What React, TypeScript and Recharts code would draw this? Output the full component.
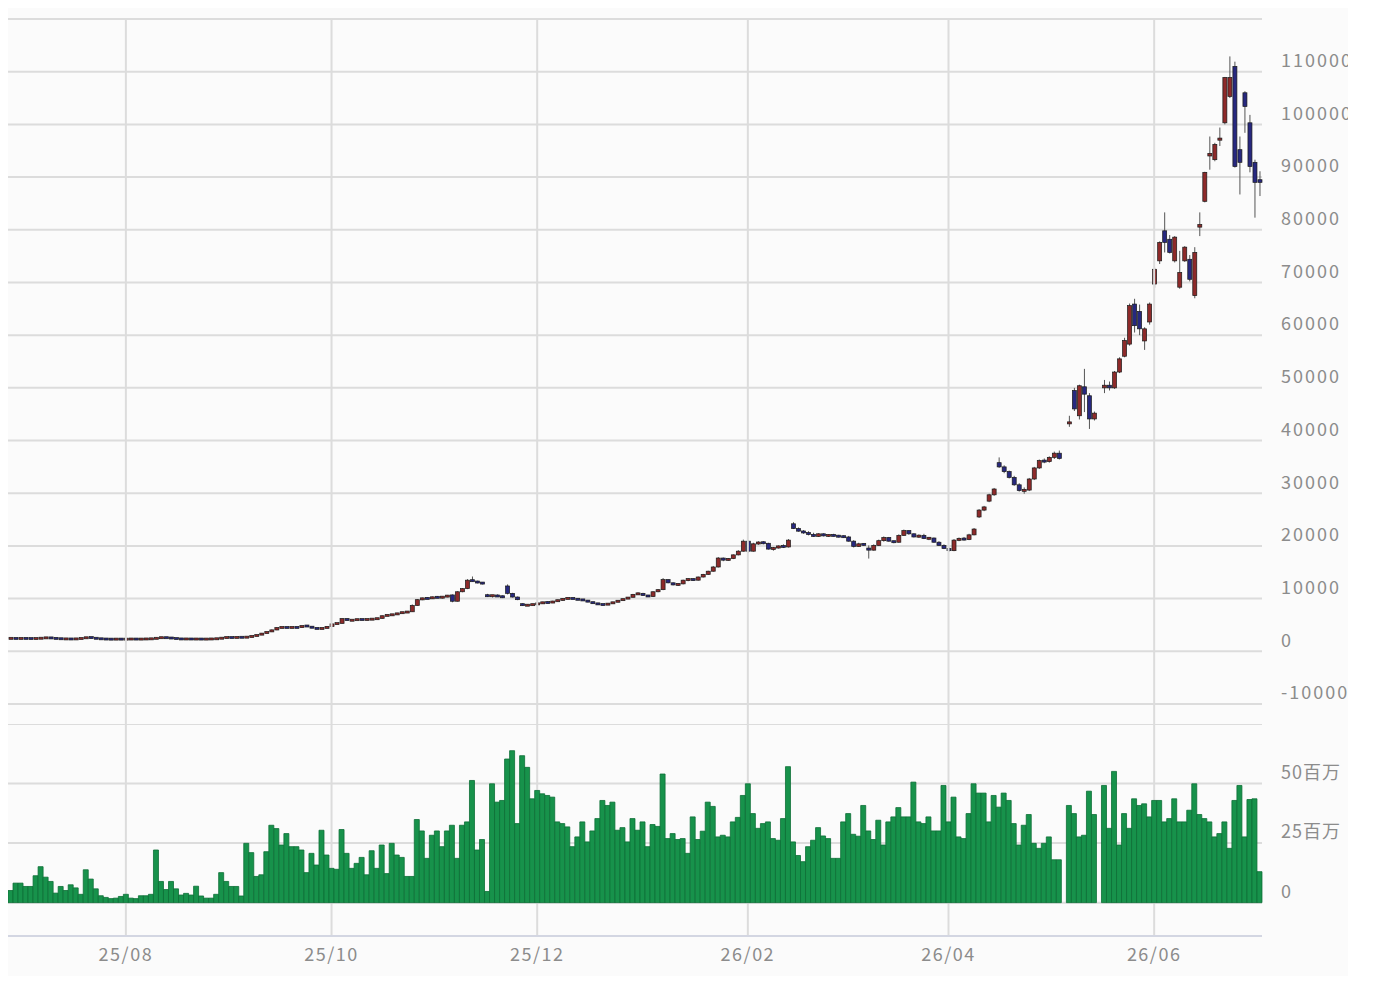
import React from 'react';
import { ComposedChart, Bar, XAxis, YAxis, CartesianGrid, ReferenceLine } from 'recharts';

// one row per trading day: [open, high, low, close], null = no trade
const candles: ([number, number, number, number] | null)[] = [
  [2450, 2550, 2380, 2480], [2480, 2520, 2400, 2420], [2420, 2500, 2380, 2470], [2470, 2530, 2420, 2440], [2440, 2500, 2380, 2400],
  [2400, 2480, 2360, 2450], [2450, 2560, 2420, 2520], [2520, 2620, 2480, 2580], [2580, 2640, 2480, 2500], [2500, 2560, 2380, 2420],
  [2420, 2460, 2300, 2340], [2340, 2400, 2280, 2360], [2360, 2420, 2300, 2320], [2320, 2400, 2280, 2380], [2380, 2500, 2340, 2480],
  [2480, 2700, 2450, 2650], [2650, 2700, 2500, 2550], [2550, 2580, 2380, 2400], [2400, 2440, 2300, 2340], [2340, 2380, 2280, 2320],
  [2320, 2380, 2260, 2300], [2300, 2360, 2260, 2330], [2330, 2380, 2280, 2300], [2300, 2360, 2260, 2320], [2320, 2380, 2280, 2340],
  [2340, 2380, 2290, 2310], [2310, 2360, 2270, 2330], [2330, 2380, 2290, 2350], [2350, 2420, 2300, 2380], [2380, 2600, 2360, 2560],
  [2560, 2640, 2500, 2600], [2600, 2660, 2520, 2560], [2560, 2600, 2450, 2480], [2480, 2500, 2340, 2360], [2360, 2400, 2300, 2330],
  [2330, 2380, 2290, 2350], [2350, 2390, 2300, 2320], [2320, 2370, 2280, 2340], [2340, 2380, 2290, 2310], [2310, 2360, 2270, 2330],
  [2330, 2380, 2290, 2350], [2350, 2420, 2320, 2400], [2400, 2600, 2380, 2580], [2580, 2660, 2540, 2620], [2620, 2680, 2560, 2600],
  [2600, 2700, 2570, 2680], [2680, 2740, 2620, 2650], [2650, 2760, 2620, 2720], [2720, 2950, 2700, 2900], [2900, 3150, 2880, 3100],
  [3100, 3480, 3080, 3420], [3420, 3750, 3400, 3700], [3700, 4150, 3650, 4050], [4050, 4600, 4000, 4500], [4500, 4620, 4420, 4550],
  [4550, 4650, 4450, 4500], [4500, 4600, 4400, 4560], [4560, 4650, 4480, 4520], [4520, 4900, 4500, 4850], [4850, 4950, 4700, 4750],
  [4750, 4780, 4350, 4400], [4400, 4480, 4250, 4300], [4300, 4420, 4250, 4380], [4380, 4750, 4350, 4700], [4700, 5300, 4650, 5200],
  [5200, 5350, 5100, 5300], [5300, 6300, 5280, 6200], [6200, 6280, 5800, 5850], [5850, 6000, 5750, 5950], [5950, 6100, 5850, 6050],
  [6050, 6150, 5950, 6000], [6000, 6100, 5900, 6080], [6080, 6200, 6000, 6120], [6120, 6300, 6050, 6250], [6250, 6800, 6200, 6750],
  [6750, 6950, 6700, 6900], [6900, 7050, 6800, 6950], [6950, 7300, 6900, 7250], [7250, 7450, 7150, 7400], [7400, 7550, 7300, 7500],
  [7500, 8900, 7480, 8700], [8700, 9900, 8650, 9800], [9800, 10200, 9700, 10100], [10100, 10300, 9900, 10000], [10000, 10400, 9950, 10300],
  [10300, 10500, 10100, 10200], [10200, 10400, 10000, 10350], [10350, 10700, 10250, 10600], [10700, 10800, 9300, 9500], [9500, 11400, 9450, 11300],
  [11300, 12000, 11200, 11900], [11900, 13700, 11800, 13500], [13500, 14200, 13200, 13300], [13300, 13400, 12900, 13000], [13000, 13100, 12700, 12900],
  [10600, 10900, 10300, 10500], [10500, 10700, 10200, 10600], [10600, 10800, 10400, 10400], [10400, 10600, 10100, 10300], [12400, 12700, 10800, 11000],
  [11000, 11100, 10200, 10300], [10300, 10400, 9700, 9800], [9000, 9100, 8600, 8700], [8700, 8900, 8600, 8800], [8800, 9000, 8700, 8900],
  [8900, 9200, 8800, 9100], [9100, 9400, 9000, 9300], [9300, 9500, 9100, 9200], [9200, 9600, 9150, 9500], [9500, 9800, 9400, 9700],
  [9700, 10100, 9600, 10000], [10000, 10200, 9900, 10100], [10100, 10200, 9900, 9950], [9950, 10050, 9700, 9800], [9800, 9900, 9600, 9700],
  [9700, 9750, 9300, 9350], [9350, 9400, 9000, 9100], [9100, 9200, 8800, 8900], [8900, 9000, 8700, 8850], [8850, 9100, 8800, 9050],
  [9050, 9400, 9000, 9350], [9350, 9700, 9300, 9650], [9650, 10000, 9600, 9950], [9950, 10300, 9900, 10250], [10250, 10900, 10200, 10800],
  [10800, 11200, 10700, 11000], [11000, 11100, 10500, 10600], [10600, 10700, 10300, 10400], [10400, 11400, 10300, 11300], [11300, 11800, 11200, 11700],
  [11700, 13900, 11600, 13600], [13600, 13700, 12900, 13000], [13000, 13100, 12500, 12600], [12600, 12900, 12400, 12800], [12800, 13600, 12700, 13500],
  [13500, 13900, 13300, 13700], [13700, 13900, 13400, 13500], [13500, 14200, 13400, 14100], [14100, 14700, 14000, 14600], [14600, 15300, 14500, 15200],
  [15200, 16200, 15100, 16000], [16000, 17900, 15900, 17700], [17700, 17800, 17100, 17300], [17300, 17700, 17200, 17600], [17600, 18400, 17500, 18300],
  [18300, 19200, 18200, 19000], [19000, 21200, 18900, 20900], [20900, 21100, 18700, 19000], [19000, 20600, 18900, 20400], [20400, 20900, 20200, 20700],
  [20700, 20900, 20300, 20500], [20500, 20600, 19300, 19400], [19400, 19800, 19100, 19600], [19600, 20100, 19500, 20000], [20000, 20300, 19600, 19800],
  [19800, 21300, 19700, 21100], [24200, 24500, 23200, 23300], [23300, 23500, 22700, 22800], [22800, 23000, 22300, 22500], [22500, 22800, 22000, 22200],
  [22200, 22500, 21700, 21800], [21800, 22400, 21700, 22300], [22300, 22400, 21800, 21900], [21900, 22200, 21700, 22100], [22100, 22300, 21800, 21900],
  [21900, 22100, 21600, 21800], [21800, 22000, 21500, 21700], [21700, 21900, 20800, 20900], [20900, 21100, 19700, 19900], [19900, 20600, 19800, 20400],
  [20400, 20500, 20000, 20200], [19600, 20100, 17600, 19200], [19200, 20300, 19100, 20100], [20100, 21200, 20000, 21000], [21000, 21800, 20800, 21600],
  [21600, 21700, 20800, 20900], [20900, 21000, 20500, 20700], [20700, 22200, 20600, 22000], [22000, 23100, 21900, 22900], [22900, 23000, 22100, 22300],
  [22300, 22400, 21600, 21700], [21700, 22200, 21500, 22000], [22000, 22300, 21300, 21400], [21400, 21700, 21100, 21500], [21500, 21600, 20600, 20700],
  [20700, 20900, 20000, 20100], [20100, 20300, 19400, 19500], [19500, 19700, 18900, 19100], [19100, 21300, 19000, 21100], [21100, 21600, 20900, 21400],
  [21400, 21700, 21000, 21200], [21200, 22300, 21100, 22100], [22100, 23400, 22000, 23200], [25500, 27000, 25300, 26800], [26800, 27600, 26600, 27400],
  [28500, 29900, 28300, 29700], [29700, 31000, 29500, 30800], [35800, 36800, 34800, 35000], [35000, 35300, 33800, 34100], [34100, 34300, 32800, 33000],
  [33000, 33300, 31400, 31600], [31600, 31900, 30300, 30500], [30500, 31100, 29900, 30600], [30600, 32900, 30400, 32700], [32700, 35000, 32500, 34800],
  [34800, 36400, 34600, 36200], [36200, 36600, 35700, 36000], [36000, 37000, 35800, 36800], [36800, 37900, 36500, 37600], [37600, 38100, 36400, 36600],
  null, [43200, 44700, 42600, 43500], [49500, 50000, 45600, 46000], [44700, 50600, 44000, 50400], [50200, 53600, 45400, 48800],
  [48500, 49000, 42200, 44100], [44100, 45500, 43800, 45200], null, [50000, 51500, 49000, 50500], [50500, 51200, 49500, 50000],
  [50000, 53200, 49800, 53000], [53000, 55800, 52800, 55500], [56000, 59500, 55800, 59000], [58300, 66000, 58000, 65600], [65900, 66900, 60500, 61800],
  [64500, 65800, 60000, 61200], [58900, 61500, 57200, 61200], [62500, 66200, 62000, 65900], [69700, 72800, 69000, 72500], [74100, 77800, 73500, 77600],
  [79800, 83300, 75700, 77600], [78200, 79000, 75500, 75700], [74100, 78800, 73800, 78600], [69100, 76000, 68800, 71900], [74100, 76900, 73900, 76700],
  [74400, 75200, 70200, 70600], [67500, 76700, 67000, 75700], [80500, 83300, 78800, 81000], [85400, 91000, 85200, 90900], [94000, 97700, 91400, 94500],
  [93300, 96500, 93000, 96200], [97000, 99400, 95900, 97400], [100300, 109000, 100000, 108900], [105300, 112900, 105000, 108900], [111000, 111900, 91800, 92000],
  [95200, 97700, 86700, 92800], [106000, 106300, 98400, 103400], [100300, 101800, 90900, 92000], [92800, 93300, 82300, 89000], [89500, 91100, 86400, 89000],
];

// daily volume, millions of shares
const volumes = [
  5.1, 8.2, 8.2, 6.8, 6.8, 11.3, 15.1, 10.7, 8.9, 4.0,
  6.8, 5.1, 7.5, 6.2, 3.5, 13.8, 9.9, 5.8, 2.9, 2.2,
  1.7, 1.9, 2.6, 3.5, 1.9, 1.7, 2.9, 2.9, 3.5, 22.1,
  8.9, 5.5, 8.9, 5.8, 3.2, 3.9, 3.2, 6.9, 2.8, 1.9,
  1.9, 3.5, 12.6, 8.9, 6.8, 6.8, 2.8, 24.9, 21.0, 11.0,
  11.7, 21.4, 32.5, 31.1, 24.2, 29.0, 23.5, 23.5, 22.1, 12.6,
  20.7, 15.8, 30.4, 20.0, 14.4, 14.0, 30.7, 20.7, 14.4, 16.5,
  19.0, 11.7, 21.8, 14.4, 24.2, 12.2, 24.9, 20.0, 19.0, 11.0,
  11.0, 34.9, 30.1, 18.6, 28.3, 30.1, 23.5, 30.1, 32.5, 18.6,
  32.5, 33.9, 51.3, 22.1, 26.5, 4.7, 49.9, 42.2, 42.9, 60.3,
  63.8, 33.2, 61.7, 56.8, 43.6, 47.1, 45.7, 45.0, 44.3, 33.9,
  33.2, 31.8, 23.5, 27.6, 33.9, 25.5, 30.1, 35.3, 42.9, 40.8,
  42.2, 30.4, 31.5, 25.5, 35.3, 30.4, 33.9, 23.5, 32.8, 32.0,
  54.0, 26.9, 29.0, 26.5, 26.9, 20.7, 36.0, 26.5, 30.0, 42.2,
  40.4, 27.6, 28.3, 27.6, 33.9, 35.8, 45.0, 49.9, 37.4, 31.2,
  33.2, 33.9, 26.9, 26.2, 35.3, 57.1, 25.5, 19.8, 17.2, 23.5,
  26.2, 31.5, 28.0, 26.9, 18.6, 18.6, 33.9, 37.4, 28.7, 27.9,
  40.8, 30.1, 26.5, 34.6, 24.2, 33.9, 36.0, 39.9, 36.0, 36.0,
  50.6, 33.9, 33.2, 36.0, 30.1, 30.1, 49.2, 33.9, 44.3, 27.6,
  26.9, 37.4, 49.9, 46.0, 46.0, 33.9, 45.0, 40.1, 46.0, 42.9,
  33.2, 24.2, 32.5, 37.0, 24.9, 22.8, 24.9, 27.6, 18.0, 18.0,
  0, 40.8, 37.4, 27.6, 28.3, 46.8, 37.0, 0, 49.2, 31.2,
  55.1, 24.2, 37.4, 31.2, 43.6, 40.8, 41.5, 36.0, 42.9, 42.9,
  33.9, 35.3, 43.6, 33.9, 33.9, 38.8, 49.9, 37.0, 35.3, 33.9,
  27.6, 29.0, 33.9, 22.8, 42.9, 49.2, 27.6, 43.3, 43.6, 13.0,
];

// first trading day of every second month
const monthTicks = [23, 64, 105, 147, 187, 228];
const monthLabels = ['25/08', '25/10', '25/12', '26/02', '26/04', '26/06'];

const priceTicks = [-10000, 0, 10000, 20000, 30000, 40000, 50000, 60000, 70000, 80000, 90000, 100000, 110000, 120000];
const volumeTicks = [0, 25e6, 50e6, 75e6];
const volumeLabels: Record<number, string> = { 0: '0', 25000000: '25百万', 50000000: '50百万' };

const rows = candles.map((c, i) => ({
  i,
  o: c ? c[0] : null,
  h: c ? c[1] : null,
  l: c ? c[2] : null,
  c: c ? c[3] : null,
  hl: c ? [c[2], c[1]] : null,
  vol: volumes[i] * 1e6,
}));

const GRID = '#dcdcdc';
const LABEL = '#8c8c8c';
const FONT = '"Noto Sans CJK JP", "Noto Sans", sans-serif';
// month lines run on through the gap down to the volume panel
const GAP_BOTTOM = -13800;

const Candle = (props: any) => {
  const { x, y, width, height, payload } = props;
  if (!payload || payload.h == null) return null;
  const top = Math.min(y, y + height);
  const bot = Math.max(y, y + height);
  const span = payload.h - payload.l;
  const k = span > 0 ? (bot - top) / span : 0;
  const yO = top + (payload.h - payload.o) * k;
  const yC = top + (payload.h - payload.c) * k;
  const bH = Math.max(2, Math.abs(yO - yC));
  const bTop = Math.min(yO, yC) - (bH - Math.abs(yO - yC)) / 2;
  const cx = x + width / 2;
  const fill = payload.c > payload.o ? '#8e2a2a' : payload.c < payload.o ? '#27287f' : '#333';
  return (
    <g>
      <line x1={cx} x2={cx} y1={top} y2={bot} stroke="#555" strokeWidth={1} />
      <rect x={x} y={bTop} width={width} height={bH} fill={fill} stroke="#1a1a1a" strokeWidth={0.7} />
    </g>
  );
};

const PriceTick = ({ x, y, payload }: any) => {
  if (payload.value === 120000) return null;
  return (
    <text x={x + 19} y={y - 11} dy="0.35em" fill={LABEL} fontSize={18} letterSpacing={2} fontFamily={FONT}>
      {payload.value}
    </text>
  );
};

const VolumeTick = ({ x, y, payload }: any) => {
  const label = volumeLabels[payload.value];
  if (!label) return null;
  return (
    <text x={x + 19} y={y - 11} dy="0.35em" fill={LABEL} fontSize={18} letterSpacing={1} fontFamily={FONT}>
      {label}
    </text>
  );
};

const MonthTick = ({ x, y, payload }: any) => (
  <text x={x} y={y + 19} dy="0.35em" textAnchor="middle" fill={LABEL} fontSize={18} letterSpacing={1.5} fontFamily={FONT}>
    {monthLabels[monthTicks.indexOf(payload.value)]}
  </text>
);

export default function App() {
  return (
    <div style={{ position: 'relative', width: 1340, height: 968, overflow: 'hidden', background: '#fbfbfb', fontFamily: FONT }}>
      <div style={{ position: 'absolute', left: 0, top: 0 }}>
        <ComposedChart width={1340} height={716} data={rows} margin={{ top: 11, right: 0, bottom: 20, left: 0 }}>
          <CartesianGrid stroke={GRID} strokeWidth={2} vertical={false} />
          <XAxis dataKey="i" type="category" hide />
          <YAxis
            orientation="right"
            width={86}
            domain={[-10000, 120000]}
            ticks={priceTicks}
            interval={0}
            axisLine={false}
            tickLine={false}
            tickSize={0}
            tickMargin={0}
            tick={<PriceTick />}
          />
          {monthTicks.map((t) => (
            <ReferenceLine
              key={t}
              segment={[{ x: t, y: 120000 }, { x: t, y: GAP_BOTTOM }]}
              stroke={GRID}
              strokeWidth={2}
              ifOverflow="visible"
            />
          ))}
          <Bar dataKey="hl" shape={<Candle />} barSize={4} isAnimationActive={false} />
        </ComposedChart>
      </div>
      <div style={{ position: 'absolute', left: 0, top: 716 }}>
        <ComposedChart width={1340} height={270} data={rows} margin={{ top: 0, right: 0, bottom: 18, left: 0 }} barCategoryGap={0}>
          <CartesianGrid stroke={GRID} strokeWidth={2} syncWithTicks />
          <XAxis
            dataKey="i"
            type="category"
            ticks={monthTicks}
            interval={0}
            height={40}
            axisLine={{ stroke: '#d3d6e2', strokeWidth: 2 }}
            tickLine={false}
            tickSize={0}
            tickMargin={0}
            tick={<MonthTick />}
          />
          <YAxis
            orientation="right"
            width={86}
            domain={[-14e6, 75e6]}
            ticks={volumeTicks}
            interval={0}
            axisLine={false}
            tickLine={false}
            tickSize={0}
            tickMargin={0}
            tick={<VolumeTick />}
          />
          <Bar dataKey="vol" fill="#17924b" stroke="#0d6f36" strokeWidth={0.8} isAnimationActive={false} />
        </ComposedChart>
      </div>
    </div>
  );
}
